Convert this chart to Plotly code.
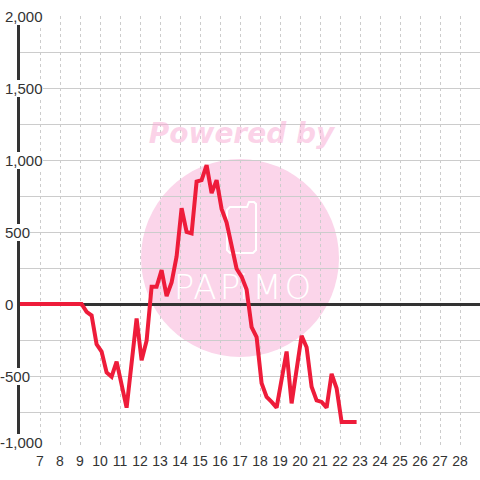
import plotly.graph_objects as go

# ---- data ----
x_vals = [6, 9.08, 9.33, 9.58, 9.83, 10.08, 10.33, 10.58, 10.83, 11.33, 11.83, 12.08,
          12.33, 12.58, 12.83, 13.08, 13.33, 13.58, 13.83, 14.08, 14.33, 14.58, 14.83,
          15.08, 15.33, 15.58, 15.83, 16.08, 16.33, 16.58, 16.83, 17.08, 17.33, 17.58,
          17.83, 18.08, 18.33, 18.58, 18.83, 19.33, 19.58, 20.08, 20.33, 20.58, 20.83,
          21.08, 21.33, 21.58, 21.83, 22.08, 22.83]
y_vals = [0, 0, -55, -80, -280, -330, -475, -505, -400, -720, -100, -390,
          -255, 120, 120, 235, 55, 150, 330, 665, 500, 490, 850,
          860, 965, 770, 860, 660, 565, 395, 245, 190, 100, -160,
          -230, -550, -645, -680, -720, -330, -690, -220, -300, -575, -670,
          -680, -720, -485, -585, -820, -820]

x_ticks = list(range(7, 29))
y_label_vals = [2000, 1500, 1000, 500, 0, -500, -1000]
y_grid_step = 250

W, H = 480, 480
ML, MR, MT, MB = 20, 0, 16, 32
PW, PH = W - ML - MR, H - MT - MB
XR = [6, 29]
YR = [-1000, 2000]


def px2x(px):
    return XR[0] + (px - ML) / PW * (XR[1] - XR[0])


def py2y(py):
    return YR[1] - (py - MT) / PH * (YR[1] - YR[0])


def PX(px):
    return (px - ML) / PW


def PY(py):
    return (H - MB - py) / PH


fig = go.Figure()

# watermark texts (drawn beneath the data line)
fig.add_trace(go.Scatter(
    x=[px2x(241.5)], y=[py2y(136)], mode="text", text=["Powered by"],
    textfont=dict(family="DejaVu Sans", size=28, color="rgba(247,168,210,0.5)",
                  weight="bold", style="italic"),
    hoverinfo="skip", showlegend=False))
letters = ["P", "A", "P", "i", "M", "O"]
letter_px = [184, 205, 230, 244, 267, 298]
fig.add_trace(go.Scatter(
    x=[px2x(p) for p in letter_px], y=[py2y(290)] * len(letters), mode="text",
    text=letters,
    textfont=dict(family="DejaVu Sans", size=34, color="white", weight=200),
    hoverinfo="skip", showlegend=False))

# data line
fig.add_trace(go.Scatter(
    x=x_vals, y=y_vals, mode="lines",
    line=dict(color="#ee1c3a", width=4, shape="linear"),
    hoverinfo="skip", showlegend=False))

shapes = [
    dict(type="circle", xref="paper", yref="paper", layer="below",
         x0=PX(141), x1=PX(339), y0=PY(357), y1=PY(159),
         fillcolor="#fbd5ea", line=dict(width=0)),
    dict(type="path", xref="paper", yref="paper", layer="below",
         path=(f"M {PX(230)},{PY(207)} L {PX(247)},{PY(207)} L {PX(249)},{PY(202)} "
               f"L {PX(254)},{PY(202)} L {PX(256)},{PY(204)} L {PX(256)},{PY(250)} "
               f"L {PX(253)},{PY(253)} L {PX(230)},{PY(253)} L {PX(227)},{PY(250)} "
               f"L {PX(227)},{PY(210)} Z"),
         line=dict(color="white", width=2)),
]

annotations = []
for v in y_label_vals:
    annotations.append(dict(
        xref="paper", yref="y", x=PX(5 if v >= 0 else 0), y=v,
        xanchor="left", yanchor="middle", showarrow=False,
        yshift=6 if v == YR[0] else 0,
        text=f"{v:,}", bgcolor="white", borderpad=0, borderwidth=0,
        font=dict(family="Liberation Sans, Arial", size=15, color="#333333")))

fig.update_layout(
    width=W, height=H,
    margin=dict(l=ML, r=MR, t=MT, b=MB, pad=0),
    paper_bgcolor="white", plot_bgcolor="white",
    shapes=shapes, annotations=annotations,
    xaxis=dict(range=XR, tickmode="array", tickvals=x_ticks,
               ticktext=[str(t) for t in x_ticks],
               showgrid=True, gridcolor="#cccccc", gridwidth=1, griddash="3px,3px",
               zeroline=False, showline=False, ticks="", ticklabelstandoff=3,
               tickfont=dict(family="Liberation Sans, Arial", size=14, color="#333333"),
               fixedrange=True),
    yaxis=dict(range=YR, tick0=0, dtick=y_grid_step, showticklabels=False,
               showgrid=True, gridcolor="#cccccc", gridwidth=1,
               zeroline=True, zerolinecolor="#333333", zerolinewidth=3,
               showline=True, linecolor="#333333", linewidth=3, ticks="",
               fixedrange=True),
)

fig.write_html("out.html", config={"displayModeBar": False, "staticPlot": True},
               post_script="document.body.style.margin='0px';document.body.style.overflow='hidden';")
